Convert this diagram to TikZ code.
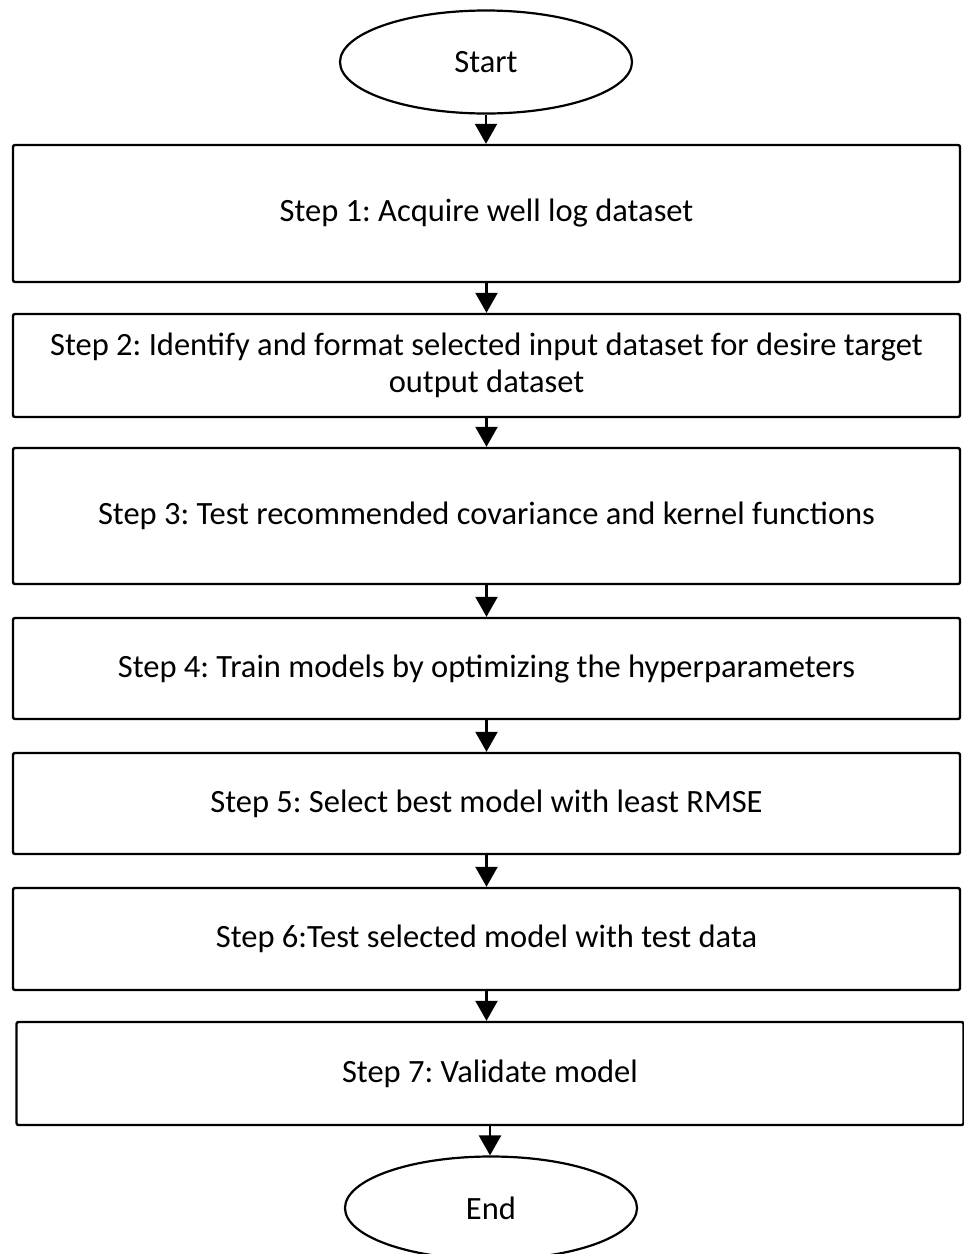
\documentclass[tikz,border=0pt]{standalone}
\usepackage{fontspec}
\setmainfont{Carlito}
\usetikzlibrary{arrows.meta,shapes.geometric}

\tikzset{
  stepbox/.style={draw,line width=2.4pt,rounded corners=2pt,minimum width=947pt,align=center,font=\fontsize{32.5}{37}\selectfont},
  terminal/.style={draw,ellipse,line width=2.2pt,minimum width=292pt,minimum height=103pt,font=\fontsize{32.5}{37}\selectfont},
  arr/.style={line width=2.2pt,-{Triangle[length=20pt,width=22pt]}}
}

\begin{document}
\frenchspacing
\begin{tikzpicture}[x=1pt,y=-1pt]
\useasboundingbox (0,0) rectangle (964,1254);

% Start
\node[terminal] (start) at (486,62) {Start};

% Steps
\node[stepbox,minimum height=137pt] (s1) at (486.5,213.5) {Step 1: Acquire well log dataset};
\node[stepbox,minimum height=103pt] (s2) at (486.5,365.5) {Step 2: Identify and format selected input dataset for desire target\\output dataset};
\node[stepbox,minimum height=136pt] (s3) at (486.5,516) {Step 3: Test recommended covariance and kernel functions};
\node[stepbox,minimum height=101pt] (s4) at (486.5,668.5) {Step 4: Train models by optimizing the hyperparameters};
\node[stepbox,minimum height=101pt] (s5) at (486.5,803.5) {Step 5: Select best model with least RMSE};
\node[stepbox,minimum height=102pt] (s6) at (486.5,939) {Step 6:Test selected model with test data};
\node[stepbox,minimum height=103pt] (s7) at (490,1073.5) {Step 7: Validate model};

% End
\node[terminal] (end) at (491,1208) {End};

% Arrows
\draw[arr] (start) -- (start |- s1.north);
\draw[arr] (s1) -- (s1 |- s2.north);
\draw[arr] (s2) -- (s2 |- s3.north);
\draw[arr] (s3) -- (s3 |- s4.north);
\draw[arr] (s4) -- (s4 |- s5.north);
\draw[arr] (s5) -- (s5 |- s6.north);
\draw[arr] (s6) -- (s6 |- s7.north);
\draw[arr] (s7) -- (s7 |- end.north);
\end{tikzpicture}
\end{document}
